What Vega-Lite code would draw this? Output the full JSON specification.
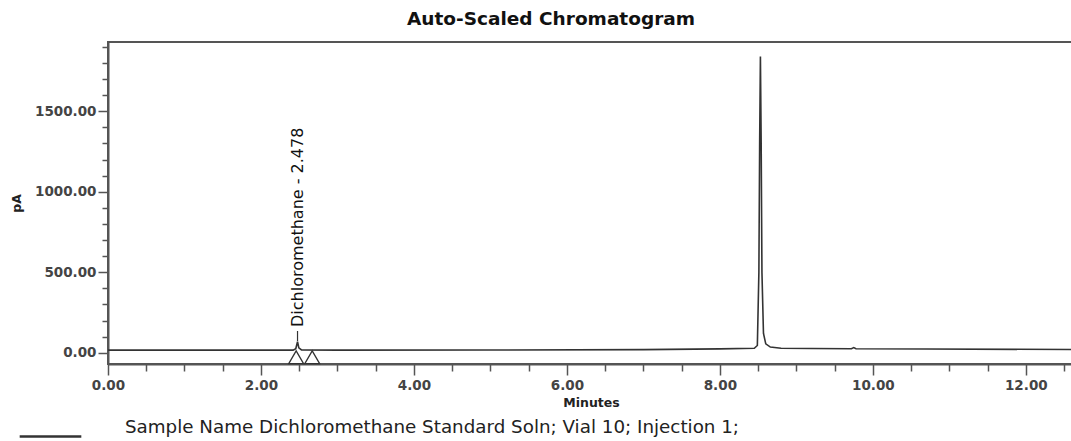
{
  "$schema": "https://vega.github.io/schema/vega-lite/v6.json",
  "autosize": "none",
  "width": 966,
  "height": 322,
  "padding": {"left": 108, "top": 42, "right": 0, "bottom": 77},
  "background": "white",
  "config": {
    "view": {"stroke": "#555", "strokeWidth": 2},
    "font": "DejaVu Sans"
  },
  "title": {
    "text": "Auto-Scaled Chromatogram",
    "fontSize": 18.5,
    "fontWeight": "bold",
    "font": "DejaVu Sans",
    "color": "#111",
    "anchor": "middle",
    "dx": -40,
    "offset": 11
  },
  "layer": [
    {
      "data": {
        "values": [
          {"t": 0.0, "pA": 16, "sample": "Sample Name Dichloromethane Standard Soln; Vial 10; Injection 1;"},
          {"t": 1.0, "pA": 16, "sample": "Sample Name Dichloromethane Standard Soln; Vial 10; Injection 1;"},
          {"t": 2.0, "pA": 16, "sample": "Sample Name Dichloromethane Standard Soln; Vial 10; Injection 1;"},
          {"t": 2.42, "pA": 16, "sample": "Sample Name Dichloromethane Standard Soln; Vial 10; Injection 1;"},
          {"t": 2.455, "pA": 25, "sample": "Sample Name Dichloromethane Standard Soln; Vial 10; Injection 1;"},
          {"t": 2.478, "pA": 68, "sample": "Sample Name Dichloromethane Standard Soln; Vial 10; Injection 1;"},
          {"t": 2.495, "pA": 30, "sample": "Sample Name Dichloromethane Standard Soln; Vial 10; Injection 1;"},
          {"t": 2.53, "pA": 17, "sample": "Sample Name Dichloromethane Standard Soln; Vial 10; Injection 1;"},
          {"t": 3.0, "pA": 16, "sample": "Sample Name Dichloromethane Standard Soln; Vial 10; Injection 1;"},
          {"t": 5.0, "pA": 17, "sample": "Sample Name Dichloromethane Standard Soln; Vial 10; Injection 1;"},
          {"t": 7.0, "pA": 19, "sample": "Sample Name Dichloromethane Standard Soln; Vial 10; Injection 1;"},
          {"t": 8.0, "pA": 24, "sample": "Sample Name Dichloromethane Standard Soln; Vial 10; Injection 1;"},
          {"t": 8.45, "pA": 28, "sample": "Sample Name Dichloromethane Standard Soln; Vial 10; Injection 1;"},
          {"t": 8.49, "pA": 45, "sample": "Sample Name Dichloromethane Standard Soln; Vial 10; Injection 1;"},
          {"t": 8.51, "pA": 500, "sample": "Sample Name Dichloromethane Standard Soln; Vial 10; Injection 1;"},
          {"t": 8.52, "pA": 1300, "sample": "Sample Name Dichloromethane Standard Soln; Vial 10; Injection 1;"},
          {"t": 8.53, "pA": 1840, "sample": "Sample Name Dichloromethane Standard Soln; Vial 10; Injection 1;"},
          {"t": 8.54, "pA": 1300, "sample": "Sample Name Dichloromethane Standard Soln; Vial 10; Injection 1;"},
          {"t": 8.55, "pA": 500, "sample": "Sample Name Dichloromethane Standard Soln; Vial 10; Injection 1;"},
          {"t": 8.57, "pA": 120, "sample": "Sample Name Dichloromethane Standard Soln; Vial 10; Injection 1;"},
          {"t": 8.6, "pA": 55, "sample": "Sample Name Dichloromethane Standard Soln; Vial 10; Injection 1;"},
          {"t": 8.66, "pA": 35, "sample": "Sample Name Dichloromethane Standard Soln; Vial 10; Injection 1;"},
          {"t": 8.8, "pA": 28, "sample": "Sample Name Dichloromethane Standard Soln; Vial 10; Injection 1;"},
          {"t": 9.2, "pA": 26, "sample": "Sample Name Dichloromethane Standard Soln; Vial 10; Injection 1;"},
          {"t": 9.72, "pA": 25, "sample": "Sample Name Dichloromethane Standard Soln; Vial 10; Injection 1;"},
          {"t": 9.75, "pA": 32, "sample": "Sample Name Dichloromethane Standard Soln; Vial 10; Injection 1;"},
          {"t": 9.78, "pA": 25, "sample": "Sample Name Dichloromethane Standard Soln; Vial 10; Injection 1;"},
          {"t": 10.7, "pA": 23, "sample": "Sample Name Dichloromethane Standard Soln; Vial 10; Injection 1;"},
          {"t": 12.63, "pA": 20, "sample": "Sample Name Dichloromethane Standard Soln; Vial 10; Injection 1;"}
        ]
      },
      "mark": {"type": "line", "strokeWidth": 1.6, "interpolate": "linear"},
      "encoding": {
        "x": {
          "field": "t", "type": "quantitative",
          "scale": {"domain": [0, 12.63], "nice": false, "zero": false},
          "axis": {
            "title": "Minutes",
            "titleFont": "DejaVu Sans",
            "titleFontSize": 12.5,
            "titleFontWeight": "bold",
            "titleColor": "#222",
            "titlePadding": 5,
            "tickCount": 200,
            "values": [0, 0.5, 1, 1.5, 2, 2.5, 3, 3.5, 4, 4.5, 5, 5.5, 6, 6.5, 7, 7.5, 8, 8.5, 9, 9.5, 10, 10.5, 11, 11.5, 12, 12.5],
            "labelExpr": "datum.value % 2 === 0 ? format(datum.value, '.2f') : ''",
            "labelOverlap": false,
            "labelFont": "DejaVu Sans",
            "labelFontSize": 13.5,
            "labelFontWeight": "bold",
            "labelColor": "#444",
            "labelPadding": 3,
            "labelFlush": false,
            "tickSize": {"condition": {"test": "datum.value % 2 === 0", "value": 11}, "value": 7},
            "tickColor": "#555",
            "tickWidth": 1.5,
            "domainColor": "#555",
            "domainWidth": 2,
            "grid": false
          }
        },
        "y": {
          "field": "pA", "type": "quantitative",
          "scale": {"domain": [-70, 1930], "nice": false, "zero": false},
          "axis": {
            "title": "pA",
            "titleFont": "DejaVu Sans",
            "titleFontSize": 12.5,
            "titleFontWeight": "bold",
            "titleColor": "#222",
            "titlePadding": 11,
            "tickCount": 200,
            "values": [0, 100, 200, 300, 400, 500, 600, 700, 800, 900, 1000, 1100, 1200, 1300, 1400, 1500, 1600, 1700, 1800, 1900],
            "labelExpr": "datum.value % 500 === 0 ? format(datum.value, '.2f') : ''",
            "labelOverlap": false,
            "labelFont": "DejaVu Sans",
            "labelFontSize": 13.5,
            "labelFontWeight": "bold",
            "labelColor": "#444",
            "labelPadding": 2,
            "labelFlush": false,
            "tickSize": {"condition": {"test": "datum.value % 500 === 0", "value": 10}, "value": 6},
            "tickColor": "#555",
            "tickWidth": 1.5,
            "domainColor": "#555",
            "domainWidth": 2,
            "grid": false
          }
        },
        "color": {
          "field": "sample", "type": "nominal",
          "scale": {"range": ["#333333"]},
          "legend": {
            "title": null,
            "orient": "none",
            "legendX": -90,
            "legendY": 362,
            "symbolType": "stroke",
            "symbolSize": 3800,
            "symbolStrokeWidth": 2.5,
            "labelFont": "DejaVu Sans",
            "labelFontSize": 18.3,
            "labelColor": "#222",
            "labelLimit": 900,
            "labelOffset": 42,
            "labelBaseline": "bottom"
          }
        }
      }
    },
    {
      "data": {"values": [{"t": 2.478, "y1": 72, "y2": 135}]},
      "mark": {"type": "rule", "color": "#333", "strokeWidth": 1.2},
      "encoding": {
        "x": {"field": "t", "type": "quantitative"},
        "y": {"field": "y1", "type": "quantitative"},
        "y2": {"field": "y2"}
      }
    },
    {
      "data": {"values": [{"t": 2.46, "y": -28}, {"t": 2.67, "y": -28}]},
      "mark": {"type": "point", "shape": "triangle-up", "filled": false, "size": 220, "color": "#333", "strokeWidth": 1.3, "opacity": 1},
      "encoding": {
        "x": {"field": "t", "type": "quantitative"},
        "y": {"field": "y", "type": "quantitative"}
      }
    },
    {
      "data": {"values": [{"t": 2.478, "y": 160, "label": "Dichloromethane - 2.478"}]},
      "mark": {"type": "text", "angle": 270, "align": "left", "baseline": "middle", "fontSize": 16, "font": "DejaVu Sans", "color": "#111"},
      "encoding": {
        "x": {"field": "t", "type": "quantitative"},
        "y": {"field": "y", "type": "quantitative"},
        "text": {"field": "label"}
      }
    }
  ]
}
